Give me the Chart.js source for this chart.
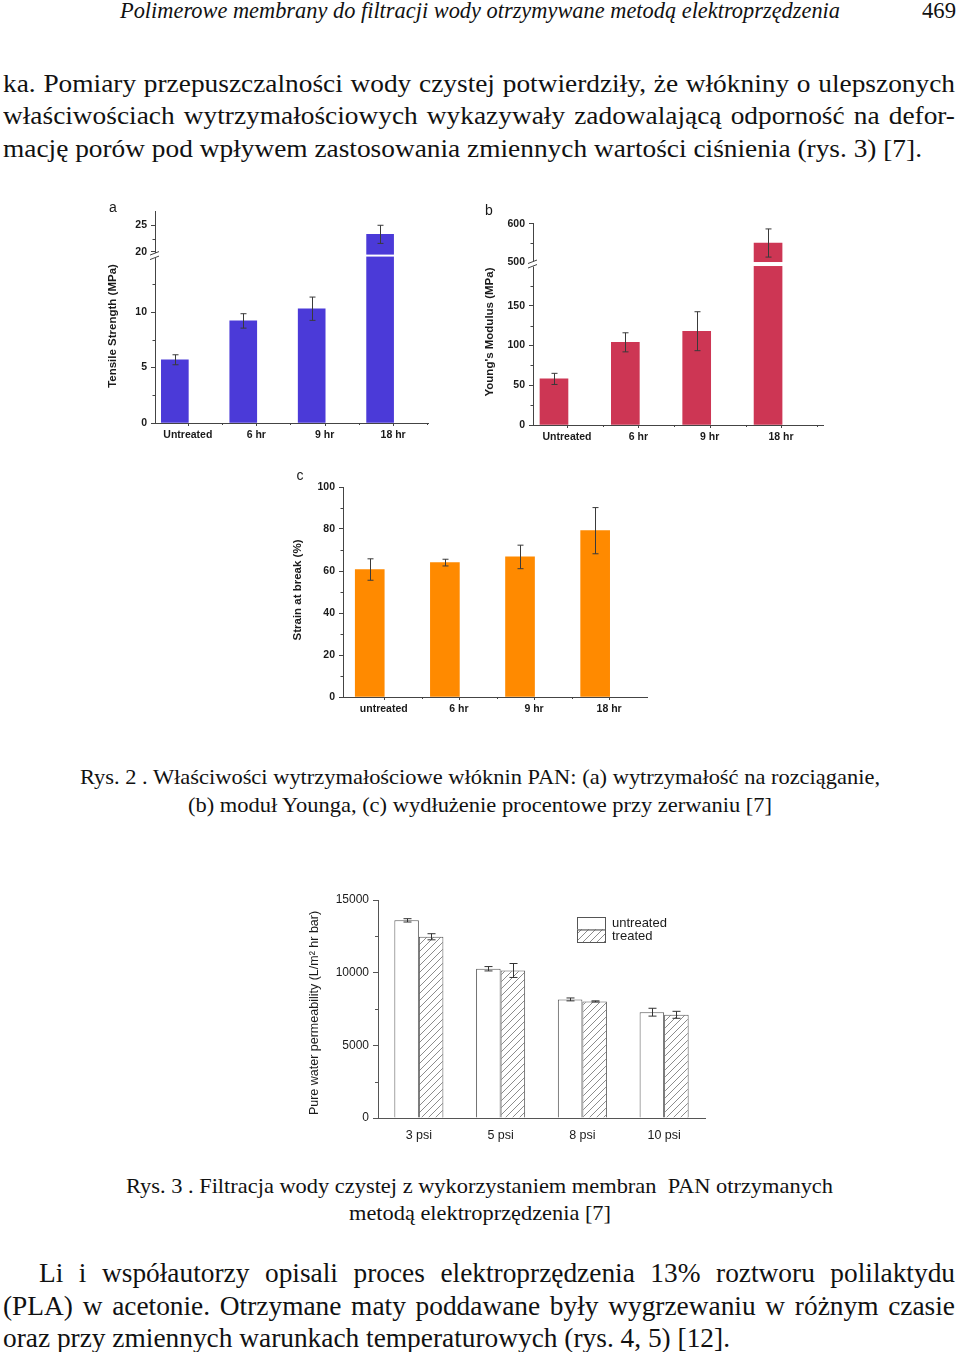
<!DOCTYPE html>
<html lang="pl">
<head>
<meta charset="utf-8">
<script src="https://cdn.jsdelivr.net/npm/chart.js@4.4.1/dist/chart.umd.min.js"></script>
<style>
  html, body { margin: 0; padding: 0; background: #fff; }
  #page { position: relative; width: 960px; height: 1352px; overflow: hidden; background: #fff; }
  .ln { position: absolute; white-space: nowrap; line-height: 1; transform-origin: 0 0; color: #111;
        font-family: 'Liberation Serif', 'Times New Roman', Times, serif; }
  canvas { position: absolute; }
</style>
</head>
<body>
<div id="page">
  <div class="ln" data-w="720" style="left:120px;top:-1.5px;font-size:23px;font-style:italic">Polimerowe membrany do filtracji wody otrzymywane metodą elektroprzędzenia</div>
  <div class="ln" data-w="34" style="left:922px;top:-1.5px;font-size:23px">469</div>

  <div class="ln" data-w="952" data-j="p1" style="left:3px;top:71.5px;font-size:24.5px">ka. Pomiary przepuszczalności wody czystej potwierdziły, że włókniny o ulepszonych</div>
  <div class="ln" data-w="952" data-j="p1" style="left:3px;top:104px;font-size:24.5px">właściwościach wytrzymałościowych wykazywały zadowalającą odporność na defor-</div>
  <div class="ln" data-w="919" data-g="p1" style="left:3px;top:136.5px;font-size:24.5px">mację porów pod wpływem zastosowania zmiennych wartości ciśnienia (rys. 3) [7].</div>

  <canvas id="cA" width="345" height="250" style="left:95px;top:195px"></canvas>
  <canvas id="cB" width="365" height="250" style="left:470px;top:195px"></canvas>
  <canvas id="cC" width="380" height="255" style="left:280px;top:465px"></canvas>

  <div class="ln" data-w="800" style="left:80px;top:766px;font-size:22px">Rys. 2 . Właściwości wytrzymałościowe włóknin PAN: (a) wytrzymałość na rozciąganie,</div>
  <div class="ln" data-w="584" style="left:188px;top:794px;font-size:22px">(b) moduł Younga, (c) wydłużenie procentowe przy zerwaniu [7]</div>

  <canvas id="cP" width="430" height="265" style="left:290px;top:885px"></canvas>

  <div class="ln" data-w="707" style="left:126px;top:1175px;font-size:22px">Rys. 3 . Filtracja wody czystej z wykorzystaniem membran&nbsp; PAN otrzymanych</div>
  <div class="ln" data-w="262" style="left:349px;top:1202px;font-size:22px">metodą elektroprzędzenia [7]</div>

  <div class="ln" data-w="916" data-j="p2" style="left:39px;top:1259px;font-size:28px">Li i współautorzy opisali proces elektroprzędzenia 13% roztworu polilaktydu</div>
  <div class="ln" data-w="952" data-j="p2" style="left:3px;top:1291.5px;font-size:28px">(PLA) w acetonie. Otrzymane maty poddawane były wygrzewaniu w różnym czasie</div>
  <div class="ln" data-w="727" data-g="p2" style="left:3px;top:1324px;font-size:28px">oraz przy zmiennych warunkach temperaturowych (rys. 4, 5) [12].</div>
</div>

<script>
// rys. 2a - tensile strength (MPa)
const catsA = ['Untreated', '6 hr', '9 hr', '18 hr']
const tensile = [5.7, 9.2, 10.3, 23.3]
const tensileErr = [0.45, 0.65, 1.05, 1.7]
const ticksA = [0, 5, 10, 20, 25]
const minorA = [2.5, 7.5, 12.5, 22.5]

// rys. 2b - Young's modulus (MPa)
const catsB = ['Untreated', '6 hr', '9 hr', '18 hr']
const modulus = [58, 104, 118, 550]
const modulusErr = [7, 12, 24.5, 37]
const ticksB = [0, 50, 100, 150, 500, 600]
const minorB = [25, 75, 125, 175, 550]

// rys. 2c - strain at break (%)
const catsC = ['untreated', '6 hr', '9 hr', '18 hr']
const strain = [60.7, 64, 66.7, 79.2]
const strainErr = [5.1, 1.6, 5.6, 11]
const ticksC = [0, 20, 40, 60, 80, 100]
const minorC = [10, 30, 50, 70, 90]

// rys. 3 - pure water permeability
const pressures = ['3 psi', '5 psi', '8 psi', '10 psi']
const seriesNames = ['untreated', 'treated']
const untreatedPerm = [13600, 10270, 8160, 7280]
const untreatedErr = [115, 150, 100, 270]
const treatedPerm = [12470, 10150, 8020, 7100]
const treatedErr = [210, 480, 40, 240]
const ticksP = [0, 5000, 10000, 15000]
const minorP = [2500, 7500, 12500]

// squeeze the text lines to the widths of the scanned page
const squeeze = {}
document.querySelectorAll('.ln[data-w]:not([data-j])').forEach((el) => {
  const s = el.dataset.w / el.getBoundingClientRect().width
  el.style.transform = `scaleX(${s})`
  if (el.dataset.g) squeeze[el.dataset.g] = s
})
document.querySelectorAll('.ln[data-j]').forEach((el) => {
  const s = squeeze[el.dataset.j] || 1
  el.style.width = el.dataset.w / s + 'px'
  el.style.textAlign = 'justify'
  el.style.textAlignLast = 'justify'
  el.style.transform = `scaleX(${s})`
})

// linear axis with a cut between brk.lo and brk.hi
class BrokenScale extends Chart.LinearScale {
  getPixelForValue(value) {
    const { lo, hi, split, gap } = this.options.brk
    let d
    if (value <= lo) d = split * (value - this.min) / (lo - this.min)
    else if (value >= hi) d = split + gap + (1 - split - gap) * (value - hi) / (this.max - hi)
    else d = split + gap * (value - lo) / (hi - lo)
    return this.getPixelForDecimal(d)
  }
}
BrokenScale.id = 'broken'
BrokenScale.defaults = Chart.LinearScale.defaults
Chart.register(BrokenScale)

const deco = {
  id: 'deco',
  afterDatasetsDraw(chart, args, o) {
    const { ctx, chartArea: area } = chart
    const y = chart.scales.y
    const brk = y.options.brk
    ctx.save()
    if (brk) {
      const top = y.getPixelForValue(brk.hi)
      const bottom = y.getPixelForValue(brk.lo)
      ctx.fillStyle = '#fff'
      ctx.fillRect(area.left + 1, top, area.right - area.left, bottom - top)
    }
    ctx.strokeStyle = o.errColor
    ctx.lineWidth = 1
    chart.data.datasets.forEach((ds, di) => {
      chart.getDatasetMeta(di).data.forEach((bar, i) => {
        const raw = ds.data[i]
        const v = typeof raw === 'object' ? raw.y : raw
        const hi = y.getPixelForValue(v + ds.err[i])
        const lo = y.getPixelForValue(v - ds.err[i])
        const x = Math.round(bar.x) + 0.5
        ctx.beginPath()
        ctx.moveTo(x, hi); ctx.lineTo(x, lo)
        ctx.moveTo(x - o.cap, hi); ctx.lineTo(x + o.cap, hi)
        ctx.moveTo(x - o.cap, lo); ctx.lineTo(x + o.cap, lo)
        ctx.stroke()
      })
    })
    ctx.restore()
  },
  afterDraw(chart, args, o) {
    const { ctx, chartArea: area } = chart
    const y = chart.scales.y
    ctx.save()
    ctx.strokeStyle = o.axisColor
    ctx.lineWidth = 1
    ctx.beginPath()
    o.minor.forEach((v) => {
      const p = Math.round(y.getPixelForValue(v)) + 0.5
      ctx.moveTo(area.left - o.minorLen, p); ctx.lineTo(area.left, p)
    })
    // x ticks sit under the labels, half steps get short ones
    if (o.xShift !== undefined) {
      const x = chart.scales.x
      x.ticks.forEach((t) => {
        const p = Math.round(x.getPixelForValue(t.value) + o.xShift) + 0.5
        const h = Math.round((x.getPixelForValue(t.value + 0.5) - x.getPixelForValue(t.value)))
        ctx.moveTo(p, area.bottom); ctx.lineTo(p, area.bottom + 3)
        if (p + h < area.right) { ctx.moveTo(p + h, area.bottom); ctx.lineTo(p + h, area.bottom + 2) }
      })
    }
    ctx.stroke()

    const brk = y.options.brk
    if (brk) {
      const mid = (y.getPixelForValue(brk.hi) + y.getPixelForValue(brk.lo)) / 2
      ctx.fillStyle = '#fff'
      ctx.fillRect(area.left - 5, mid - 2.5, 10, 5)
      ctx.beginPath()
      ctx.moveTo(area.left - 5, mid - 0.5); ctx.lineTo(area.left + 4, mid - 4)
      ctx.moveTo(area.left - 5, mid + 4); ctx.lineTo(area.left + 4, mid + 0.5)
      ctx.stroke()
    }

    ctx.fillStyle = '#1a1a1a'
    ctx.textBaseline = 'middle'
    if (o.letter) {
      ctx.font = o.letter.font
      ctx.textAlign = 'center'
      ctx.fillText(o.letter.text, o.letter.x, o.letter.y)
    }
    if (o.ytitle) {
      ctx.save()
      ctx.translate(o.ytitle.x, o.ytitle.y)
      ctx.rotate(-Math.PI / 2)
      ctx.font = o.ytitle.font
      ctx.textAlign = 'center'
      ctx.fillText(o.ytitle.text, 0, 0)
      ctx.restore()
    }
    if (o.key) {
      const k = o.key
      ctx.font = k.font
      ctx.textAlign = 'left'
      chart.data.datasets.forEach((ds, i) => {
        const top = k.y + i * k.h
        ctx.fillStyle = ds.backgroundColor
        ctx.fillRect(k.x, top, k.w, k.h)
        ctx.strokeStyle = o.axisColor
        ctx.strokeRect(k.x + 0.5, top + 0.5, k.w, k.h)
        ctx.fillStyle = '#1a1a1a'
        ctx.fillText(ds.label, k.x + k.w + 7, top + k.h / 2 + 0.5)
      })
    }
    ctx.restore()
  },
}

Chart.defaults.font.family = "'Liberation Sans', Arial, sans-serif"
Chart.defaults.color = '#1a1a1a'

const tickFont = { size: 10.5, weight: 'bold' }
const titleFont = 'bold 11.5px "Liberation Sans", Arial'
const letterFont = '14px "Liberation Sans", Arial'

function panel(id, c) {
  const [padT, padR, padB, padL] = c.pad
  return new Chart(document.getElementById(id), {
    type: 'bar',
    data: {
      datasets: [{
        data: c.values.map((v, i) => ({ x: i, y: v })),
        err: c.errs,
        backgroundColor: c.color,
        barThickness: c.barThickness,
      }],
    },
    options: {
      responsive: false,
      animation: false,
      events: [],
      layout: { padding: { top: padT, right: padR, bottom: 0, left: 0 } },
      plugins: {
        legend: { display: false },
        tooltip: { enabled: false },
        deco: Object.assign({ errColor: '#3a3a3a', cap: 3, axisColor: '#444', minorLen: 2.5, xShift: c.labelOffset }, c.deco),
      },
      scales: {
        x: {
          type: 'linear',
          min: c.xRange[0],
          max: c.xRange[1],
          offset: false,
          afterFit: (s) => { s.height = padB },
          afterBuildTicks: (s) => { s.ticks = c.cats.map((cat, i) => ({ value: i })) },
          grid: { drawOnChartArea: false, drawTicks: false, offset: false },
          border: { color: '#444' },
          ticks: {
            callback: (v, i) => c.cats[i],
            font: tickFont,
            padding: 6,
            labelOffset: c.labelOffset,
            autoSkip: false,
            maxRotation: 0,
          },
        },
        y: Object.assign({
          afterFit: (s) => { s.width = padL },
          afterBuildTicks: (s) => { s.ticks = c.ticks.map((v) => ({ value: v })) },
          grid: { drawOnChartArea: false, tickLength: 4, color: '#444' },
          border: { color: '#444' },
          ticks: { font: tickFont, padding: 4, callback: (v) => v },
        }, c.y),
      },
    },
    plugins: [deco],
  })
}

panel('cA', {
  pad: [16, 12, 22, 60],
  cats: catsA, values: tensile, errs: tensileErr, ticks: ticksA,
  color: '#4b3ad8',
  barThickness: 27,
  xRange: [-0.29, 3.7],
  labelOffset: 13,
  y: { type: 'broken', min: 0, max: 27.68, brk: { lo: 15, hi: 19.5, split: 0.785, gap: 0.0094 } },
  deco: {
    minor: minorA,
    letter: { text: 'a', x: 18, y: 13, font: letterFont },
    ytitle: { text: 'Tensile Strength (MPa)', x: 18, y: 131, font: titleFont },
  },
})

panel('cB', {
  pad: [28, 12, 20, 63],
  cats: catsB, values: modulus, errs: modulusErr, ticks: ticksB,
  color: '#cd3654',
  barThickness: 28,
  xRange: [-0.294, 3.77],
  labelOffset: 13,
  y: { type: 'broken', min: 0, max: 602.6, brk: { lo: 200, hi: 500, split: 0.787, gap: 0.0198 } },
  deco: {
    minor: minorB,
    letter: { text: 'b', x: 19, y: 16, font: letterFont },
    ytitle: { text: "Young's Modulus (MPa)", x: 20, y: 137, font: titleFont },
  },
})

panel('cC', {
  pad: [22, 13, 23, 63],
  cats: catsC, values: strain, errs: strainErr, ticks: ticksC,
  color: '#ff8a00',
  barThickness: 29,
  xRange: [-0.356, 3.69],
  labelOffset: 14,
  y: { type: 'linear', min: 0, max: 100 },
  deco: {
    minor: minorC,
    letter: { text: 'c', x: 20, y: 11, font: letterFont },
    ytitle: { text: 'Strain at break (%)', x: 18, y: 125, font: titleFont },
  },
})

function hatch() {
  const c = document.createElement('canvas')
  c.width = c.height = 7
  const g = c.getContext('2d')
  g.fillStyle = '#fff'
  g.fillRect(0, 0, 7, 7)
  g.strokeStyle = '#8c8c8c'
  g.lineWidth = 1
  g.beginPath()
  g.moveTo(0, 7); g.lineTo(7, 0)
  g.moveTo(-1, 1); g.lineTo(1, -1)
  g.moveTo(6, 8); g.lineTo(8, 6)
  g.stroke()
  return g.createPattern(c, 'repeat')
}

new Chart(document.getElementById('cP'), {
  type: 'bar',
  data: {
    labels: pressures,
    datasets: [
      { label: seriesNames[0], data: untreatedPerm, err: untreatedErr, backgroundColor: '#fff', borderColor: '#555', borderWidth: 1 },
      { label: seriesNames[1], data: treatedPerm, err: treatedErr, backgroundColor: hatch(), borderColor: '#555', borderWidth: 1 },
    ],
  },
  options: {
    responsive: false,
    animation: false,
    events: [],
    layout: { padding: { top: 15, right: 15, bottom: 0, left: 0 } },
    datasets: { bar: { categoryPercentage: 0.6, barPercentage: 1 } },
    plugins: {
      legend: { display: false },
      tooltip: { enabled: false },
      deco: {
        errColor: '#333', cap: 4, axisColor: '#555', minorLen: 3,
        minor: minorP,
        ytitle: { text: 'Pure water permeability (L/m² hr bar)', x: 25, y: 128, font: '12.5px "Liberation Sans", Arial' },
        key: { x: 287, y: 32, w: 28, h: 12.5, font: '13px "Liberation Sans", Arial' },
      },
    },
    scales: {
      x: {
        afterFit: (s) => { s.height = 32 },
        grid: { drawOnChartArea: false, drawTicks: false },
        border: { color: '#555' },
        ticks: { font: { size: 12.5 }, padding: 10 },
      },
      y: {
        min: 0,
        max: 15000,
        afterFit: (s) => { s.width = 88 },
        afterBuildTicks: (s) => { s.ticks = ticksP.map((v) => ({ value: v })) },
        grid: { drawOnChartArea: false, tickLength: 5, color: '#555' },
        border: { color: '#555' },
        ticks: { font: { size: 12 }, padding: 4, callback: (v) => v },
      },
    },
  },
  plugins: [deco],
})
</script>
</body>
</html>
